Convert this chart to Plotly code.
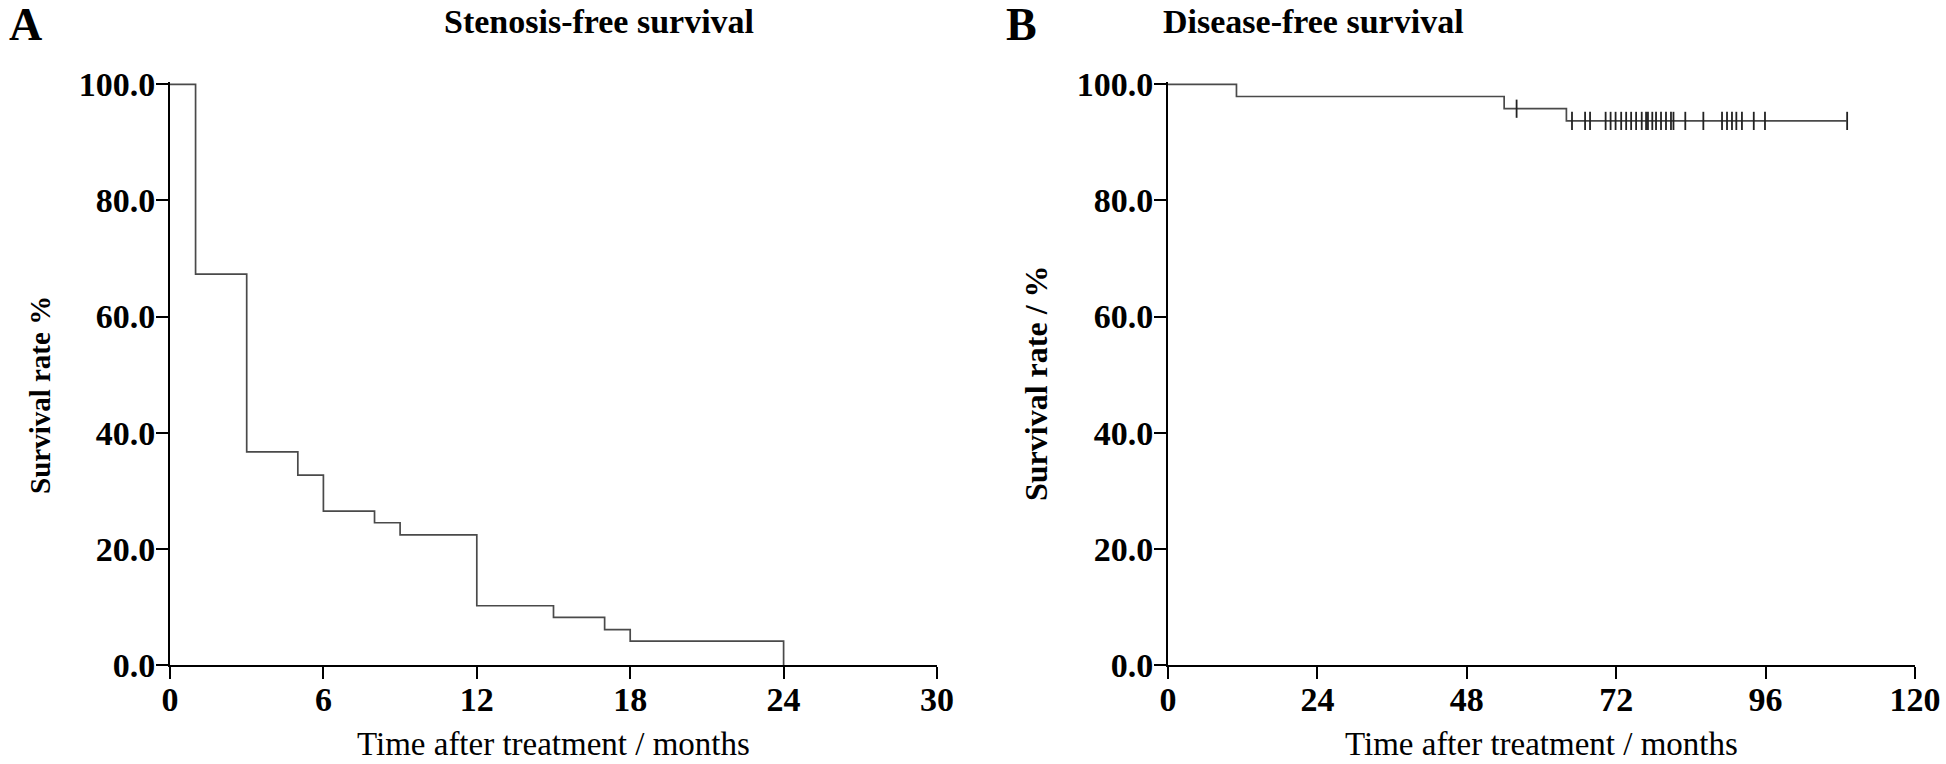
import plotly.graph_objects as go

# ---------------- data ----------------
# Panel A: Stenosis-free survival (step times in months, survival %)
a_times = [0, 1, 3, 5, 6, 8, 9, 12, 15, 17, 18, 24]
a_surv = [100.0, 67.3, 36.7, 32.7, 26.5, 24.5, 22.4, 10.2, 8.2, 6.1, 4.1, 0.0]

# Panel B: Disease-free survival
b_times = [0, 11, 54, 64, 109]
b_surv = [100.0, 97.9, 95.8, 93.7, 93.7]
b_censor_times = [56, 64.9, 67.0, 67.8, 70.3, 71.1, 71.9, 72.8, 73.6, 74.4, 75.2,
                  76.1, 76.8, 77.1, 77.8, 78.4, 79.2, 80.0, 80.8, 81.2, 83.1,
                  86.0, 89.0, 89.8, 90.6, 91.3, 92.2, 94.1, 95.9, 109.1]
b_censor_surv = [95.8] + [93.7] * 29

a_xticks = [0, 6, 12, 18, 24, 30]
b_xticks = [0, 24, 48, 72, 96, 120]
y_ticks = [0, 20, 40, 60, 80, 100]

W, H = 1946, 764
FONT = "Liberation Serif, Times New Roman, serif"
LINE = "#4a4a4a"

fig = go.Figure()

fig.add_trace(go.Scatter(x=a_times, y=a_surv, mode="lines", line_shape="hv",
                         line=dict(color=LINE, width=1.7), xaxis="x", yaxis="y",
                         showlegend=False, hoverinfo="skip"))
fig.add_trace(go.Scatter(x=b_times, y=b_surv, mode="lines", line_shape="hv",
                         line=dict(color=LINE, width=1.7), xaxis="x2", yaxis="y2",
                         showlegend=False, hoverinfo="skip"))
fig.add_trace(go.Scatter(x=b_censor_times, y=b_censor_surv, mode="markers",
                         marker=dict(symbol="line-ns", size=13,
                                     line=dict(color="#222222", width=1.8)),
                         xaxis="x2", yaxis="y2", showlegend=False, hoverinfo="skip"))


def px(x):
    return x / W


def py(y):
    return 1 - y / H


ydom = [py(665), py(82)]
axis_common = dict(showgrid=False, zeroline=False, showline=True, linecolor="black",
                   linewidth=2, ticks="outside", ticklen=12, tickwidth=2,
                   tickcolor="black", automargin=False,
                   tickfont=dict(family=FONT, size=34, color="black", weight="bold"))

fig.update_layout(
    width=W, height=H, margin=dict(l=0, r=0, t=0, b=0, pad=0, autoexpand=False),
    paper_bgcolor="white", plot_bgcolor="white",
    xaxis=dict(domain=[px(170), px(937)], range=[0, 30], tickvals=a_xticks,
               ticktext=[str(v) for v in a_xticks], anchor="y",
               ticklabelstandoff=-9, **axis_common),
    yaxis=dict(domain=ydom, range=[0, 100.4], tickvals=y_ticks,
               ticktext=[f"{v:.1f}" for v in y_ticks], anchor="x",
               ticklabelstandoff=-6, **axis_common),
    xaxis2=dict(domain=[px(1168), px(1915)], range=[0, 120], tickvals=b_xticks,
                ticktext=[str(v) for v in b_xticks], anchor="y2",
                ticklabelstandoff=-9, **axis_common),
    yaxis2=dict(domain=ydom, range=[0, 100.4], tickvals=y_ticks,
                ticktext=[f"{v:.1f}" for v in y_ticks], anchor="x2",
                ticklabelstandoff=-6, **axis_common),
)

ann = [
    dict(text="<b>A</b>", x=px(25), y=py(24), size=46),
    dict(text="<b>Stenosis-free survival</b>", x=px(599), y=py(22), size=34),
    dict(text="<b>B</b>", x=px(1021), y=py(24), size=46),
    dict(text="<b>Disease-free survival</b>", x=px(1313), y=py(22), size=34),
    dict(text="Time after treatment / months", x=px(553), y=py(744), size=33),
    dict(text="Time after treatment / months", x=px(1541), y=py(744), size=33),
]
for a in ann:
    fig.add_annotation(text=a["text"], x=a["x"], y=a["y"], xref="paper", yref="paper",
                       xanchor="center", yanchor="middle", showarrow=False,
                       font=dict(family=FONT, size=a["size"], color="black"))

for txt, x, y, s in [("Survival rate %", 40, 395, 29), ("Survival rate / %", 1036, 383, 32)]:
    fig.add_annotation(text=txt, x=px(x), y=py(y), xref="paper", yref="paper",
                       xanchor="center", yanchor="middle", showarrow=False, textangle=-90,
                       font=dict(family=FONT, size=s, color="black", weight="bold"))

fig.write_html("out.html", config={"displayModeBar": False},
               post_script="document.body.style.margin='0';")
